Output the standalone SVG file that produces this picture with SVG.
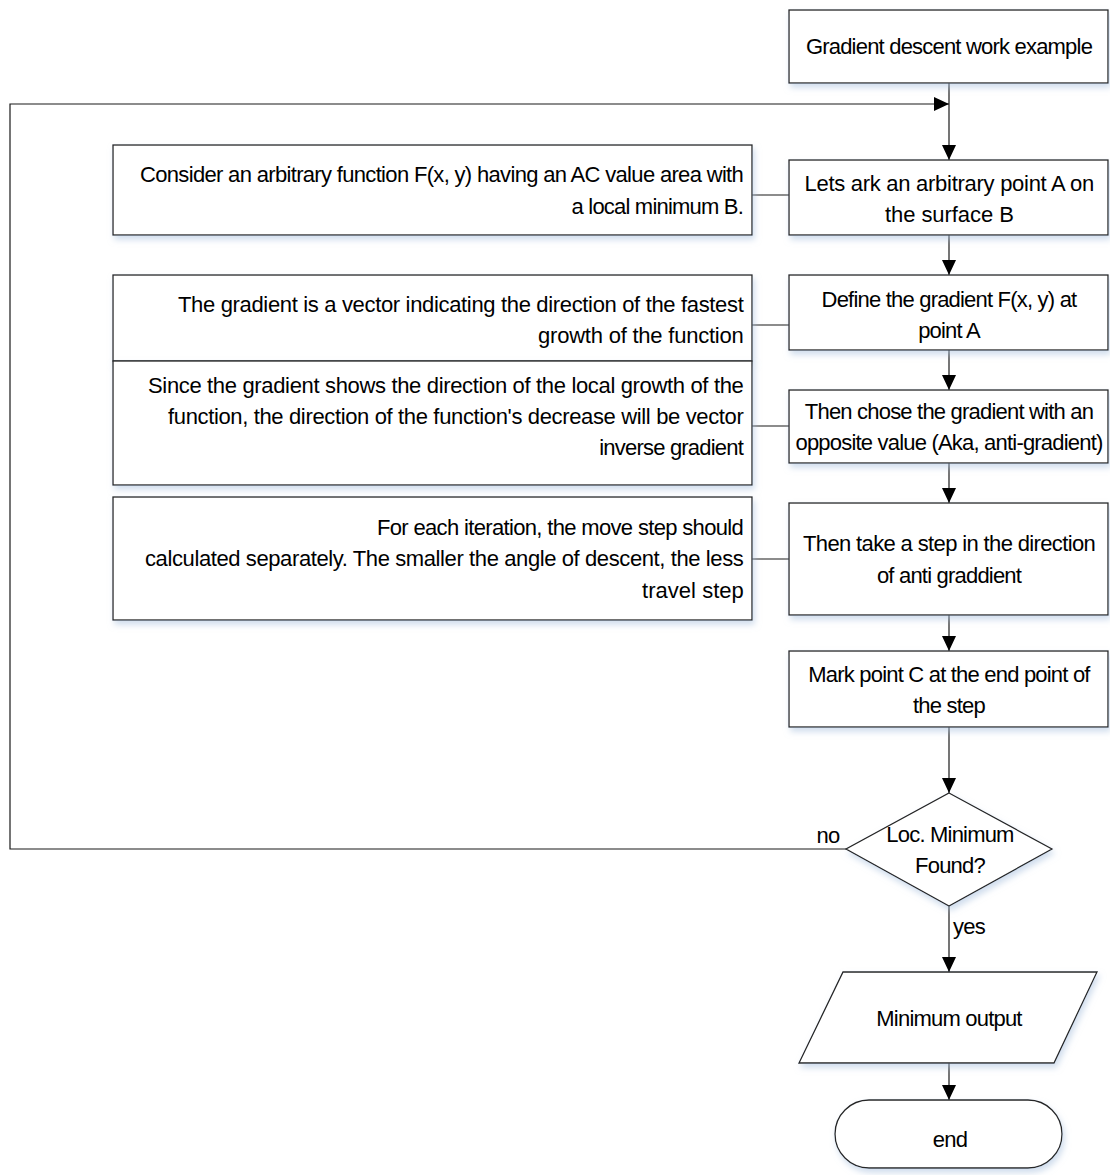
<svg xmlns="http://www.w3.org/2000/svg" width="1110" height="1175" viewBox="0 0 1110 1175">
  <style>
    .shape { fill: #ffffff; stroke: #262626; stroke-width: 1.3; filter: url(#glow); }
    .wire { fill: none; stroke: #1a1a1a; stroke-width: 1.2; }
    text { font-family: "Liberation Sans", Arial, sans-serif; font-size: 22px; letter-spacing: -0.8px; fill: #000000; }
    .c { text-anchor: middle; }
    .r { text-anchor: end; }
  </style>
  <defs>
    <filter id="glow" x="-10%" y="-20%" width="120%" height="150%">
      <feDropShadow dx="2" dy="4" stdDeviation="3" flood-color="#a9c0de" flood-opacity="0.55"/>
    </filter>
    <marker id="arrow" viewBox="0 0 15 14" refX="15" refY="7" markerWidth="15" markerHeight="14" markerUnits="userSpaceOnUse" orient="auto">
      <path d="M0,0 L15,7 L0,14 Z" fill="#000000"/>
    </marker>
  </defs>

  <rect width="1110" height="1175" fill="#ffffff"/>

  <!-- connectors -->
  <g id="connectors">
    <line class="wire" x1="949" y1="83" x2="949" y2="160" marker-end="url(#arrow)"/>
    <line class="wire" x1="949" y1="235" x2="949" y2="275" marker-end="url(#arrow)"/>
    <line class="wire" x1="949" y1="350" x2="949" y2="390" marker-end="url(#arrow)"/>
    <line class="wire" x1="949" y1="463" x2="949" y2="503" marker-end="url(#arrow)"/>
    <line class="wire" x1="949" y1="615" x2="949" y2="651" marker-end="url(#arrow)"/>
    <line class="wire" x1="949" y1="727" x2="949" y2="793" marker-end="url(#arrow)"/>
    <line class="wire" x1="949" y1="906" x2="949" y2="972" marker-end="url(#arrow)"/>
    <line class="wire" x1="949" y1="1063" x2="949" y2="1100" marker-end="url(#arrow)"/>
    <!-- loop back from the decision to the top of the chain -->
    <polyline class="wire" points="846,849 10,849 10,104 949,104" marker-end="url(#arrow)"/>
    <!-- annotation links -->
    <line class="wire" x1="752" y1="195" x2="789" y2="195"/>
    <line class="wire" x1="752" y1="325" x2="789" y2="325"/>
    <line class="wire" x1="752" y1="426" x2="789" y2="426"/>
    <line class="wire" x1="752" y1="559" x2="789" y2="559"/>
    <text x="828" y="843" class="c">no</text>
    <text x="953" y="934">yes</text>
  </g>

  <g id="start">
    <rect class="shape" x="789" y="10" width="319" height="73"/>
    <text x="949" y="54" class="c">Gradient descent work example</text>
  </g>

  <g id="note-function">
    <rect class="shape" x="113" y="145" width="639" height="90"/>
    <text x="743" y="182" class="r" textLength="603">Consider an arbitrary function F(x, y) having an AC value area with</text>
    <text x="743" y="214" class="r">a local minimum B.</text>
  </g>

  <g id="mark-a">
    <rect class="shape" x="789" y="160" width="319" height="75"/>
    <text x="949" y="191" class="c" textLength="289">Lets ark an arbitrary point A on</text>
    <text x="949" y="222" class="c" textLength="128">the surface B</text>
  </g>

  <g id="note-gradient">
    <rect class="shape" x="113" y="275" width="639" height="86"/>
    <text x="743" y="312" class="r" textLength="565">The gradient is a vector indicating the direction of the fastest</text>
    <text x="743" y="343" class="r" textLength="205">growth of the function</text>
  </g>

  <g id="define-gradient">
    <rect class="shape" x="789" y="275" width="319" height="75"/>
    <text x="949" y="307" class="c">Define the gradient F(x, y) at</text>
    <text x="949" y="338" class="c">point A</text>
  </g>

  <g id="note-inverse">
    <rect class="shape" x="113" y="361" width="639" height="124"/>
    <text x="743" y="393" class="r" textLength="595">Since the gradient shows the direction of the local growth of the</text>
    <text x="743" y="424" class="r" textLength="575">function, the direction of the function's decrease will be vector</text>
    <text x="743" y="455" class="r">inverse gradient</text>
  </g>

  <g id="anti-gradient">
    <rect class="shape" x="789" y="390" width="319" height="73"/>
    <text x="949" y="419" class="c">Then chose the gradient with an</text>
    <text x="949" y="450" class="c">opposite value (Aka, anti-gradient)</text>
  </g>

  <g id="note-step">
    <rect class="shape" x="113" y="497" width="639" height="123"/>
    <text x="743" y="535" class="r" textLength="366">For each iteration, the move step should</text>
    <text x="743" y="566" class="r" textLength="598">calculated separately. The smaller the angle of descent, the less</text>
    <text x="743" y="598" class="r" textLength="101">travel step</text>
  </g>

  <g id="take-step">
    <rect class="shape" x="789" y="503" width="319" height="112"/>
    <text x="949" y="551" class="c" textLength="292">Then take a step in the direction</text>
    <text x="949" y="583" class="c">of anti graddient</text>
  </g>

  <g id="mark-c">
    <rect class="shape" x="789" y="651" width="319" height="76"/>
    <text x="949" y="682" class="c">Mark point C at the end point of</text>
    <text x="949" y="713" class="c">the step</text>
  </g>

  <g id="decision">
    <polygon class="shape" points="949,793 1052,849 949,906 846,849"/>
    <text x="950" y="842" class="c">Loc. Minimum</text>
    <text x="950" y="873" class="c">Found?</text>
  </g>

  <g id="output">
    <polygon class="shape" points="843,972 1097,972 1054,1063 799,1063"/>
    <text x="949" y="1026" class="c">Minimum output</text>
  </g>

  <g id="end">
    <rect class="shape" x="835" y="1100" width="227" height="68" rx="34" ry="34"/>
    <text x="950" y="1147" class="c">end</text>
  </g>
</svg>
